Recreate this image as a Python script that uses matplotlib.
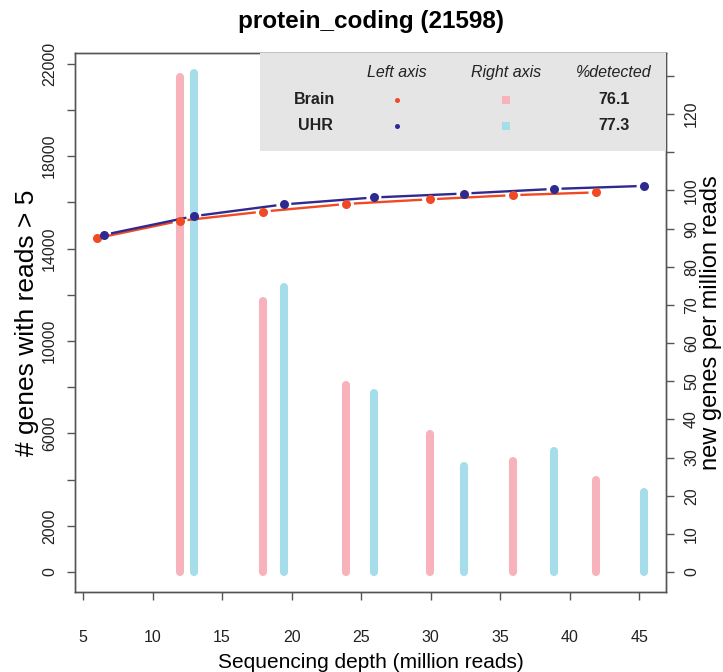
import numpy as np
import matplotlib
matplotlib.use('Agg')
import matplotlib.pyplot as plt
from matplotlib.patches import Rectangle

plt.rcParams['font.family'] = ['Liberation Sans', 'DejaVu Sans']

# data
title = 'protein_coding (21598)'
total_genes = 21598
samples = ['Brain', 'UHR']
pct_detected = ['76.1', '77.3']

brain_depth = [5.99, 11.97, 17.96, 23.94, 29.93, 35.92, 41.90]
brain_genes = [14450, 15200, 15600, 15930, 16130, 16310, 16430]
brain_new = [129.7, 71.0, 49.1, 36.1, 29.1, 24.0]   # new genes / million reads, at depth[1:]

uhr_depth = [6.48, 12.96, 19.44, 25.92, 32.40, 38.88, 45.36]
uhr_genes = [14590, 15400, 15910, 16210, 16380, 16580, 16710]
uhr_new = [130.8, 74.6, 47.0, 27.9, 31.7, 21.1]

left_ticks = np.arange(0, 22001, 2000)
left_shown = [0, 2000, 6000, 10000, 14000, 18000, 22000]
right_ticks = np.arange(0, 131, 10)
right_shown = [0, 10, 20, 30, 40, 50, 60, 70, 80, 90, 100, 120]
x_ticks = np.arange(5, 46, 5)

col_brain = '#F04A24'
col_uhr = '#2E2A8F'
col_brain_bar = '#F7B2BC'
col_uhr_bar = '#A5DDEA'
axcol = '#555555'


def r_lim(lo, hi):
    # R style 4% range extension
    d = (hi - lo) * 0.04
    return lo - d, hi + d


def gapped_line(ax, x, y, color, gap=7.5, lw=1.7):
    # mimic R's type="b": segments stop short of the points
    pts = ax.transData.transform(np.column_stack([x, y]))
    inv = ax.transData.inverted()
    for p, q in zip(pts[:-1], pts[1:]):
        d = q - p
        L = np.hypot(d[0], d[1])
        if L <= 2 * gap:
            continue
        u = d / L
        a = inv.transform(p + u * gap)
        b = inv.transform(q - u * gap)
        ax.plot([a[0], b[0]], [a[1], b[1]], color=color, lw=lw, solid_capstyle='butt', zorder=3)


fig = plt.figure(figsize=(7.23, 6.72), dpi=100)
ax1 = fig.add_axes([75 / 723, 1 - 592 / 672, 591 / 723, 539 / 672])
ax2 = ax1.twinx()
ax1.set_zorder(ax2.get_zorder() + 1)
ax1.patch.set_visible(False)

ax1.set_xlim(*r_lim(min(brain_depth), max(uhr_depth)))
ax1.set_ylim(*r_lim(0, total_genes))
ax2.set_ylim(*r_lim(0, max(max(brain_new), max(uhr_new))))

# bars on right axis (R type="h")
ax2.vlines(brain_depth[1:], 0, brain_new, colors=col_brain_bar, lw=5.8, capstyle='round', zorder=2)
ax2.vlines(uhr_depth[1:], 0, uhr_new, colors=col_uhr_bar, lw=5.8, capstyle='round', zorder=2)

# saturation curves on left axis
gapped_line(ax1, brain_depth, brain_genes, col_brain)
gapped_line(ax1, uhr_depth, uhr_genes, col_uhr)
ax1.plot(brain_depth, brain_genes, 'o', color=col_brain, ms=6.5, mew=0, zorder=4)
ax1.plot(uhr_depth, uhr_genes, 'o', color=col_uhr, ms=6.5, mew=0, zorder=4)

# axes styling
for ax in (ax1, ax2):
    for s in ax.spines.values():
        s.set_color(axcol)
        s.set_linewidth(1.0)
    ax.tick_params(colors=axcol, labelcolor='#222222', length=6, width=1.0, labelsize=11.5)

ax1.set_xticks(x_ticks)
ax1.set_xticklabels([str(t) for t in x_ticks])
ax1.tick_params(axis='x', pad=21)
ax1.set_yticks(left_ticks)
ax1.set_yticklabels([str(t) if t in left_shown else '' for t in left_ticks],
                    rotation=90, va='center')
ax1.tick_params(axis='y', pad=7)
ax2.set_yticks(right_ticks)
ax2.set_yticklabels([str(t) if t in right_shown else '' for t in right_ticks],
                    rotation=90, va='center')
ax2.tick_params(axis='y', pad=7)

ax1.set_xlabel('Sequencing depth (million reads)', fontsize=15, labelpad=6)
ax1.set_ylabel('# genes with reads > 5', fontsize=19)
ax1.yaxis.set_label_coords(-0.061, 0.5)
ax2.set_ylabel('new genes per million reads', fontsize=17)
ax2.yaxis.set_label_coords(1.058, 0.5)
ax1.set_title(title, fontsize=17.5, fontweight='bold', pad=18)

# legend panel (R legend with grey background)
lx0, ly0 = 0.313, 0.818
ax1.add_patch(Rectangle((lx0, ly0), 1 - lx0, 1 - ly0, transform=ax1.transAxes,
                        facecolor='#E5E5E5', edgecolor='none', zorder=5, clip_on=False))
hy, rows_y = 0.963, [0.913, 0.865]
cx_name, cx_left, cx_right, cx_pct = 0.406, 0.545, 0.729, 0.912
for cx, t in [(cx_left, 'Left axis'), (cx_right, 'Right axis'), (cx_pct, '%detected')]:
    ax1.text(cx, hy, t, transform=ax1.transAxes, ha='center', va='center',
             style='italic', fontsize=11.5, color='#222222', zorder=6)
pt_cols = [col_brain, col_uhr]
bar_cols = [col_brain_bar, col_uhr_bar]
for i, name in enumerate(samples):
    y = rows_y[i]
    ax1.text(cx_name, y, name, transform=ax1.transAxes, ha='center', va='center',
             fontweight='bold', fontsize=11.5, color='#222222', zorder=6)
    ax1.plot([cx_left], [y], 'o', transform=ax1.transAxes, color=pt_cols[i], ms=3.6, mew=0,
             zorder=6, clip_on=False)
    ax1.plot([cx_right], [y], 's', transform=ax1.transAxes, color=bar_cols[i], ms=5.5, mew=0,
             zorder=6, clip_on=False)
    ax1.text(cx_pct, y, pct_detected[i], transform=ax1.transAxes, ha='center', va='center',
             fontweight='bold', fontsize=11.5, color='#222222', zorder=6)

plt.savefig('out.png', dpi=100)
